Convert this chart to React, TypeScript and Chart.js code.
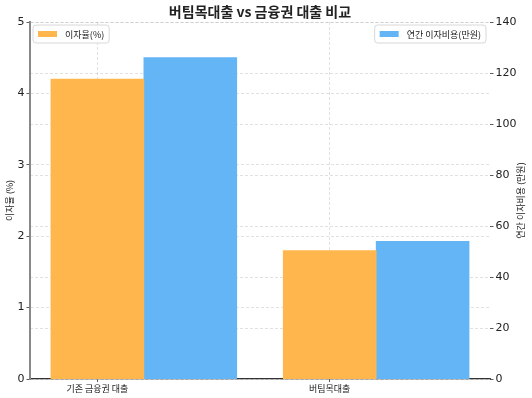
import React, { useEffect, useRef } from "react";
import { Chart, registerables } from "chart.js";

Chart.register(...registerables);

const categories = ["기존 금융권 대출", "버팀목대출"];
const interestRates = [4.2, 1.8];
const annualCosts = [126, 54];
const leftTicks = [0, 1, 2, 3, 4, 5];
const rightTicks = [0, 20, 40, 60, 80, 100, 120, 140];
const rateLabel = "이자율(%)";
const costLabel = "연간 이자비용(만원)";
const chartTitle = "버팀목대출 vs 금융권 대출 비교";
const leftAxisTitle = "이자율 (%)";
const rightAxisTitle = "연간 이자비용 (만원)";

const ORANGE = "#FFB74D";
const BLUE = "#64B5F6";
const GRID = "rgba(170,170,170,0.45)";
const KFONT = '"Noto Sans CJK KR", "DejaVu Sans", sans-serif';
const NFONT = '"DejaVu Sans", "Noto Sans CJK KR", sans-serif';

const overlayPlugin = {
  id: "overlay",
  afterDraw(chart: any) {
    const { ctx, chartArea } = chart;
    const cx = (chartArea.left + chartArea.right) / 2;
    const cy = (chartArea.top + chartArea.bottom) / 2;
    ctx.save();
    ctx.fillStyle = "#222";
    ctx.textAlign = "center";
    ctx.textBaseline = "middle";
    ctx.font = `bold 14px ${KFONT}`;
    ctx.fillText(chartTitle, cx, 12);

    ctx.font = `9px ${KFONT}`;
    ctx.save();
    ctx.translate(10, cy);
    ctx.rotate(-Math.PI / 2);
    ctx.fillText(leftAxisTitle, 0, 0);
    ctx.restore();
    ctx.save();
    ctx.translate(521, cy);
    ctx.rotate(-Math.PI / 2);
    ctx.fillText(rightAxisTitle, 0, 0);
    ctx.restore();

    const drawLegend = (label: string, color: string, anchor: "left" | "right") => {
      ctx.font = `9px ${KFONT}`;
      const tw = ctx.measureText(label).width;
      const w = 5 + 19 + 8 + tw + 5;
      const h = 18;
      const x = anchor === "left" ? chartArea.left + 3 : chartArea.right - 4 - w;
      const y = chartArea.top + 3;
      ctx.beginPath();
      const r = 3;
      ctx.moveTo(x + r, y);
      ctx.lineTo(x + w - r, y);
      ctx.arcTo(x + w, y, x + w, y + r, r);
      ctx.lineTo(x + w, y + h - r);
      ctx.arcTo(x + w, y + h, x + w - r, y + h, r);
      ctx.lineTo(x + r, y + h);
      ctx.arcTo(x, y + h, x, y + h - r, r);
      ctx.lineTo(x, y + r);
      ctx.arcTo(x, y, x + r, y, r);
      ctx.closePath();
      ctx.fillStyle = "rgba(255,255,255,0.85)";
      ctx.fill();
      ctx.strokeStyle = "#d8d8d8";
      ctx.lineWidth = 1;
      ctx.stroke();
      ctx.fillStyle = color;
      ctx.fillRect(x + 5, y + h / 2 - 3, 19, 6);
      ctx.fillStyle = "#222";
      ctx.textAlign = "left";
      ctx.textBaseline = "middle";
      ctx.fillText(label, x + 5 + 19 + 8, y + h / 2 + 0.5);
    };
    drawLegend(rateLabel, ORANGE, "left");
    drawLegend(costLabel, BLUE, "right");
    ctx.restore();
  },
};

export default function App() {
  const canvasRef = useRef<HTMLCanvasElement | null>(null);

  useEffect(() => {
    const canvas = canvasRef.current;
    if (!canvas) return;
    const chart = new Chart(canvas, {
      type: "bar",
      data: {
        datasets: [
          {
            label: rateLabel,
            data: categories.map((_, i) => ({ x: i, y: interestRates[i] })),
            backgroundColor: ORANGE,
            xAxisID: "x",
            yAxisID: "y",
          },
          {
            label: costLabel,
            data: categories.map((_, i) => ({ x: i + 0.4, y: annualCosts[i] })),
            backgroundColor: BLUE,
            xAxisID: "x",
            yAxisID: "y1",
          },
        ],
      } as any,
      options: {
        animation: false,
        responsive: false,
        grouped: false,
        barPercentage: 1,
        categoryPercentage: 1,
        layout: { padding: { top: 22, left: 0, right: 0, bottom: 0 } },
        plugins: {
          legend: { display: false },
          title: { display: false },
          tooltip: { enabled: false },
        },
        scales: {
          x: {
            type: "linear",
            offset: false,
            z: 1,
            min: -0.29,
            max: 1.69,
            afterBuildTicks: (s: any) => {
              s.ticks = categories.map((_, i) => ({ value: i }));
            },
            afterFit: (s: any) => {
              s.height = 19;
            },
            ticks: {
              autoSkip: false,
              maxRotation: 0,
              padding: 1,
              color: "#222",
              font: { family: KFONT, size: 9 },
              callback: (v: any) => categories[Math.round(Number(v))] ?? "",
            },
            grid: {
              offset: false,
              color: GRID,
              lineWidth: 0.8,
              tickColor: "#333",
              tickLength: 3,
            },
            border: { display: true, color: "#333", width: 1.2, dash: [3, 2] },
          },
          y: {
            type: "linear",
            position: "left",
            z: 1,
            min: 0,
            max: 5,
            afterBuildTicks: (s: any) => {
              s.ticks = leftTicks.map((v) => ({ value: v }));
            },
            afterFit: (s: any) => {
              s.width = 30;
            },
            ticks: {
              padding: 2,
              color: "#222",
              font: { family: NFONT, size: 11 },
            },
            grid: {
              color: GRID,
              lineWidth: 0.8,
              tickColor: "#333",
              tickLength: 3.5,
            },
            border: { display: true, color: "#888", width: 2, dash: [3, 2] },
          },
          y1: {
            type: "linear",
            position: "right",
            z: 1,
            min: 0,
            max: 140,
            afterBuildTicks: (s: any) => {
              s.ticks = rightTicks.map((v) => ({ value: v }));
            },
            afterFit: (s: any) => {
              s.width = 42;
            },
            ticks: {
              padding: 2,
              color: "#222",
              font: { family: NFONT, size: 11 },
            },
            grid: {
              color: GRID,
              lineWidth: 0.8,
              tickColor: "#333",
              tickLength: 3.5,
            },
            border: { display: false, dash: [3, 2] },
          },
        },
      } as any,
      plugins: [overlayPlugin],
    });
    return () => chart.destroy();
  }, []);

  return (
    <div style={{ position: "absolute", left: 0, top: 0, width: 532, height: 398, background: "#fff" }}>
      <canvas ref={canvasRef} width={532} height={398} style={{ display: "block" }} />
    </div>
  );
}
